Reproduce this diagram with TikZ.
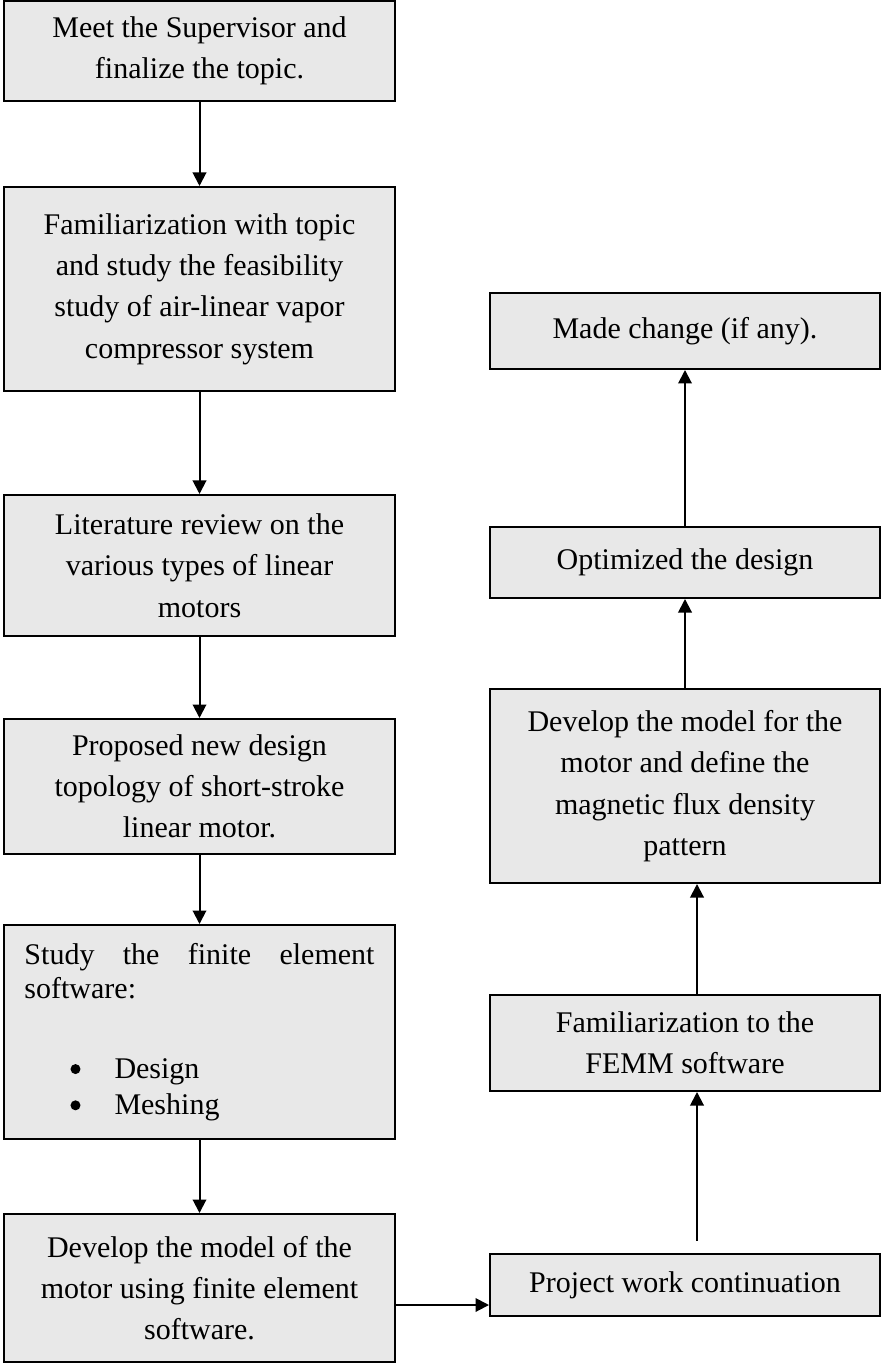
\documentclass[tikz,border=0pt]{standalone}
\usepackage{fontspec}
\setmainfont{Liberation Serif}
\usepackage{tikz}
\usetikzlibrary{arrows.meta}
\tikzset{
  stagebox/.style={draw, line width=0.8pt, fill=black!9, minimum width=156pt,
    inner sep=3pt, align=center, font=\fontsize{12}{16.5}\selectfont}
}
\tikzset{flow/.style={line width=0.8pt, -{Triangle[length=5.4pt,width=5.4pt]}}}
\newcommand{\bigdot}{\hspace*{18.4pt}\raisebox{1.6pt}{\tikz\fill (0,0) circle (2pt);}\hspace*{13.6pt}}

\begin{document}
\begin{tikzpicture}[x=0.4pt, y=-0.4pt]
\useasboundingbox (0,0) rectangle (881,1363);
\node [stagebox, minimum height=40pt] (meet) at (199.5,51) {Meet the Supervisor and\\ finalize the topic.};
\node [stagebox, minimum height=81.6pt] (famil) at (199.5,289) {Familiarization with topic\\ and study the feasibility\\ study of air-linear vapor\\ compressor system};
\node [stagebox, minimum height=56.4pt] (lit) at (199.5,565.5) {Literature review on the\\ various types of linear\\ motors};
\node [stagebox, minimum height=54pt] (prop) at (199.5,786.5) {Proposed new design\\ topology of short-stroke\\ linear motor.};
\node [stagebox, minimum height=85.6pt, align=left, text width=140pt, font=\fontsize{12}{13.5}\selectfont] (fem) at (199.5,1032) {Study\hfill the\hfill finite\hfill element\\ software:\\[18.5pt] \bigdot Design\\[1pt] \bigdot Meshing};
\node [stagebox, minimum height=59.2pt] (devl) at (199.5,1288) {Develop the model of the\\ motor using finite element\\ software.};
\node [stagebox, minimum height=30.4pt] (made) at (685,331) {Made change (if any).};
\node [stagebox, minimum height=28.4pt] (opt) at (685,562.5) {Optimized the design};
\node [stagebox, minimum height=77.6pt] (devr) at (685,786) {Develop the model for the\\ motor and define the\\ magnetic flux density\\ pattern};
\node [stagebox, minimum height=38.4pt] (femm) at (685,1043) {Familiarization to the\\ FEMM software};
\node [stagebox, minimum height=24.8pt] (proj) at (685,1285) {Project work continuation};
\draw [flow] (meet) -- (famil);
\draw [flow] (famil) -- (lit);
\draw [flow] (lit) -- (prop);
\draw [flow] (prop) -- (fem);
\draw [flow] (fem) -- (devl);
\draw [flow] ([yshift=-6.8pt]devl.east) -- ([yshift=-6.8pt]devl.east -| proj.west);
\draw [flow, shorten <=5pt] ([xshift=4.8pt]proj.north) -- ([xshift=4.8pt]femm.south);
\draw [flow] ([xshift=4.8pt]femm.north) -- ([xshift=4.8pt]devr.south);
\draw [flow] (devr) -- (opt);
\draw [flow] (opt) -- (made);
\end{tikzpicture}
\end{document}
